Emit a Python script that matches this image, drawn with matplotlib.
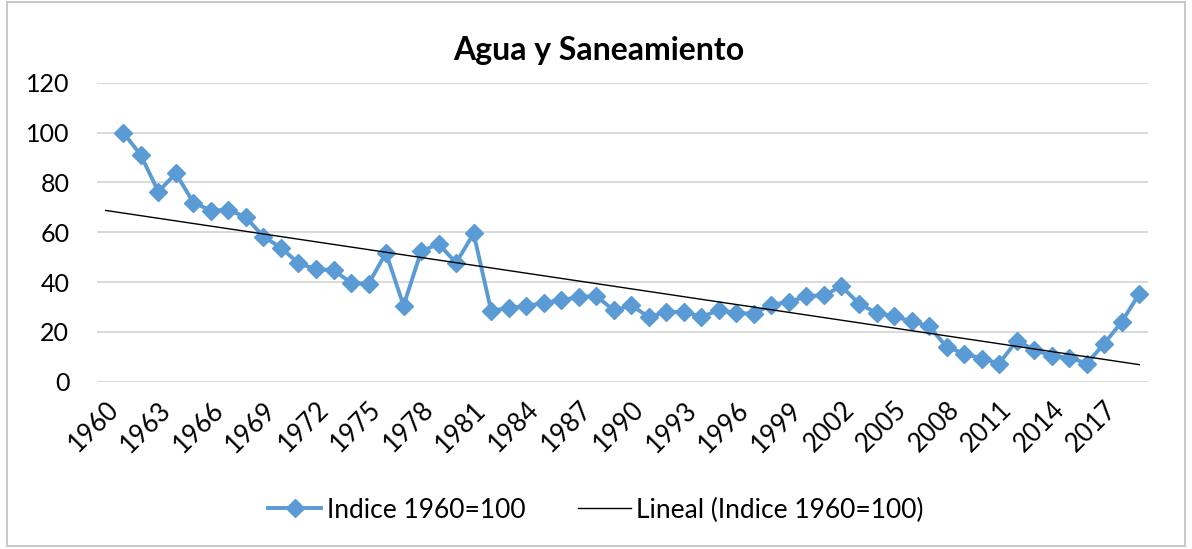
import numpy as np
import matplotlib
matplotlib.use("Agg")
from matplotlib import pyplot as plt
from matplotlib.patches import Rectangle

# categories 1960..2019; the first category holds no value in the source sheet
years = list(range(1960, 2020))
indice = [np.nan,
          100.0, 90.9, 76.3, 83.6, 71.9, 68.7, 69.0, 66.0, 58.2, 53.8,
          47.5, 45.2, 44.8, 39.7, 39.3, 51.7, 30.5, 52.3, 55.3, 47.7,
          59.5, 28.5, 29.5, 30.5, 31.5, 32.9, 33.8, 34.5, 28.6, 30.6,
          26.0, 28.0, 28.0, 26.0, 28.7, 27.6, 27.3, 30.9, 32.0, 34.3,
          34.7, 38.3, 31.3, 27.6, 26.3, 24.2, 22.3, 14.0, 11.3, 9.3,
          7.3, 16.4, 12.9, 10.3, 9.7, 7.3, 15.3, 24.0, 35.3]
y_ticks = [0, 20, 40, 60, 80, 100, 120]
title = "Agua y Saneamiento"
serie_label = "Indice 1960=100"
trend_label = "Lineal (Indice 1960=100)"

plt.rcParams['font.family'] = ['Lato', 'DejaVu Sans']

x = np.arange(len(years))
y = np.array(indice, dtype=float)
ok = ~np.isnan(y)
# Excel-style linear trendline over category index
coef = np.polyfit(x[ok], y[ok], 1)
trend = np.polyval(coef, x)

fig = plt.figure(figsize=(11.92, 5.49), dpi=100)
fig.patches.append(Rectangle((0.006, 0.006), 0.988, 0.99, transform=fig.transFigure,
                             fill=False, edgecolor='#BFBFBF', linewidth=1.2))
ax = fig.add_axes([0.0814, 0.3047, 0.8817, 0.5447])

blue = '#5B9BD5'
ax.plot(x, y, color=blue, linewidth=2.8, marker='D', markersize=9,
        markeredgecolor=blue, markerfacecolor=blue, label=serie_label, zorder=3)
ax.plot(x, trend, color='black', linewidth=1.0, label=trend_label, zorder=4)

ax.set_xlim(-0.5, len(years) - 0.5)
ax.set_ylim(0, 120)
ax.set_yticks(y_ticks)
ax.set_yticklabels([str(v) for v in y_ticks], fontsize=18)
ax.set_xticks(x[::3])
ax.set_xticklabels([str(v) for v in years[::3]], rotation=45, ha='right',
                   rotation_mode='anchor', fontsize=18.5)
ax.tick_params(axis='y', length=0, pad=20)
ax.tick_params(axis='x', length=0, pad=11)
ax.grid(axis='y', color='#D9D9D9', linewidth=1.4)
ax.set_axisbelow(True)
for s in ax.spines.values():
    s.set_visible(False)

fig.text(0.502, 0.908, title, ha='center', va='center', fontsize=23, fontweight='bold')

handles, labels = ax.get_legend_handles_labels()
fig.legend(handles, labels, loc='center', bbox_to_anchor=(0.5, 0.071), ncol=2,
           frameon=False, fontsize=19, handlelength=2.0, handletextpad=0.2,
           columnspacing=2.0)

fig.savefig('out.png', dpi=100)
